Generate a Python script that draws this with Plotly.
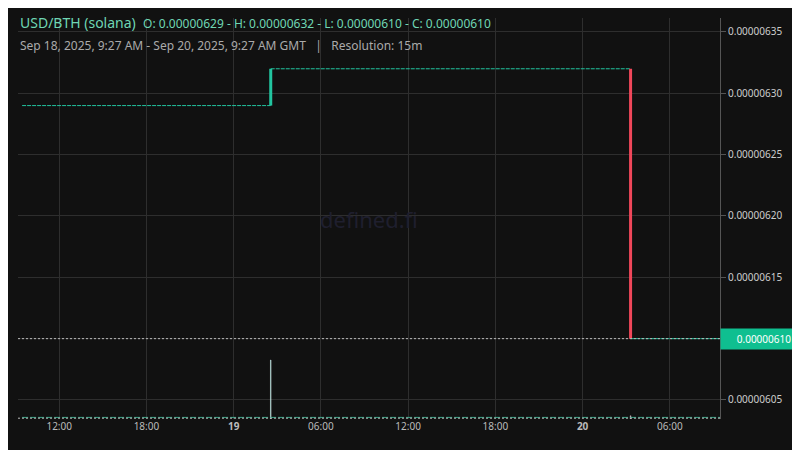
import plotly.graph_objects as go

# flat price segments
flat1_times = ["2025-09-18 09:27", "2025-09-19 02:33"]
flat1_prices = [6.29e-6, 6.29e-6]
flat2_times = ["2025-09-19 02:33", "2025-09-20 03:18"]
flat2_prices = [6.32e-6, 6.32e-6]
flat3_times = ["2025-09-20 03:18", "2025-09-20 09:27"]
flat3_prices = [6.10e-6, 6.10e-6]

# the two big candles (open -> close)
up_time = "2025-09-19 02:33"
up_open, up_close = 6.29e-6, 6.32e-6
down_time = "2025-09-20 03:18"
down_open, down_close = 6.32e-6, 6.10e-6

# volume
vol_times = ["2025-09-19 02:33", "2025-09-20 03:18"]
vol_values = [0.147, 0.008]
vol_colors = ["#5fd6b0", "#f0606a"]

tick_vals = ["2025-09-18 12:00", "2025-09-18 18:00", "2025-09-19 00:00", "2025-09-19 06:00",
             "2025-09-19 12:00", "2025-09-19 18:00", "2025-09-20 00:00", "2025-09-20 06:00"]
tick_text = ["12:00", "18:00", "<b>19</b>", "06:00", "12:00", "18:00", "<b>20</b>", "06:00"]
y_ticks = [6.05e-6, 6.10e-6, 6.15e-6, 6.20e-6, 6.25e-6, 6.30e-6, 6.35e-6]

green = "#22c5a0"
red = "#f0475a"
flat_line = dict(color=green, width=1, dash="4px,1px")

fig = go.Figure()
for xs, ys in [(flat1_times, flat1_prices), (flat2_times, flat2_prices), (flat3_times, flat3_prices)]:
    fig.add_trace(go.Scatter(x=xs, y=ys, mode="lines", line=flat_line, hoverinfo="skip"))
fig.add_trace(go.Scatter(x=[up_time, up_time], y=[up_open, up_close], mode="lines",
                         line=dict(color=green, width=3)))
fig.add_trace(go.Scatter(x=[down_time, down_time], y=[down_open, down_close], mode="lines",
                         line=dict(color=red, width=3)))
fig.add_trace(go.Bar(x=vol_times, y=vol_values, marker_color=vol_colors, width=150000,
                     yaxis="y2"))
fig.add_trace(go.Scatter(x=[flat1_times[0], flat3_times[-1]], y=[0.004, 0.004], mode="lines",
                         line=dict(color="#3aa88a", width=1, dash="6px,2px"), yaxis="y2"))

fig.add_hline(y=6.10e-6, line=dict(color="#bbbbbb", width=1, dash="2px,2px"))
fig.add_shape(type="line", xref="paper", yref="paper", x0=0, x1=1, y0=0.002, y1=0.002,
              line=dict(color="#bbbbbb", width=1, dash="2px,2px"))

fig.update_layout(
    width=800, height=450, showlegend=False,
    paper_bgcolor="#111111", plot_bgcolor="#111111",
    margin=dict(l=10, r=88, t=10, b=39, autoexpand=False),
    font=dict(family="Noto Sans", color="#cccccc", size=10),
    xaxis=dict(range=["2025-09-18 09:10", "2025-09-20 09:27"], tickvals=tick_vals, ticktext=tick_text,
               showgrid=True, gridcolor="#2e2e2e", zeroline=False,
               tickfont=dict(color="#bbbbbb", size=10), ticks=""),
    yaxis=dict(side="right", range=[6.0345e-6, 6.3614e-6], tickvals=y_ticks,
               ticktext=[f"{v:.8f}" for v in y_ticks], showgrid=True, gridcolor="#2e2e2e",
               zeroline=False, showline=True, linecolor="#555555", ticks="outside",
               ticklen=5, tickcolor="#555555", tickfont=dict(color="#cccccc", size=10)),
    yaxis2=dict(overlaying="y", range=[0, 1], visible=False),
    annotations=[
        dict(text="USD/BTH (solana)  <span style='font-size:12px'>O: 0.00000629 - H: 0.00000632 - L: 0.00000610 - C: 0.00000610</span>",
             xref="paper", yref="paper", x=0, y=1, xanchor="left", yanchor="bottom", yshift=-16,
             showarrow=False, font=dict(size=14, color="#6fd6b4")),
        dict(text="Sep 18, 2025, 9:27 AM - Sep 20, 2025, 9:27 AM GMT   |   Resolution: 15m",
             xref="paper", yref="paper", x=0, y=1, xanchor="left", yanchor="bottom", yshift=-38,
             showarrow=False, font=dict(size=12, color="#aaaaaa")),
        dict(text="defined.fi", xref="paper", yref="paper", x=0.5, y=0.5, showarrow=False,
             font=dict(size=22, color="#1f1f2e")),
        dict(text="0.00000610", xref="paper", yref="y", x=1, y=6.10e-6, xanchor="left",
             showarrow=False, bgcolor="#0fbf90", font=dict(color="#ffffff", size=10),
             borderpad=3, width=80),
    ],
)
fig.write_html("out.html")
